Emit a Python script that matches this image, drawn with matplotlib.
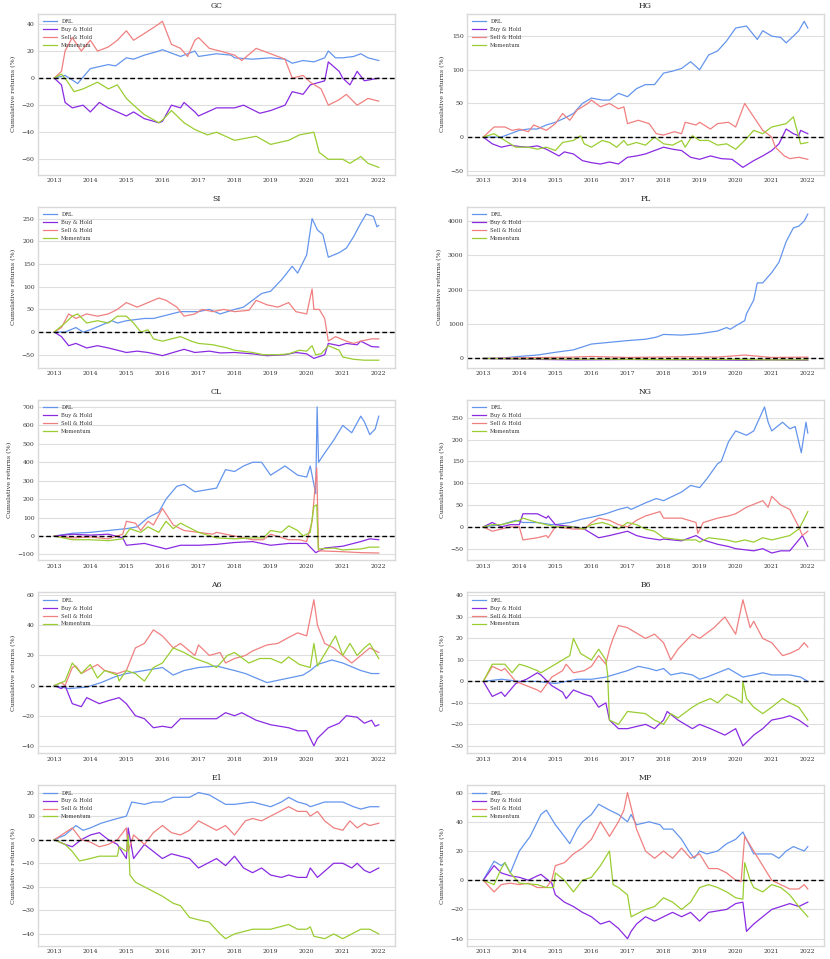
import matplotlib
matplotlib.use("Agg")
import matplotlib.pyplot as plt

STRATEGIES = ["DRL", "Buy & Hold", "Sell & Hold", "Momentum"]
COLORS = ["cornflowerblue", "blueviolet", "lightcoral", "yellowgreen"]
YEARS = list(range(2013, 2023))
YEAR_LABELS = [str(y) for y in YEARS]

# ---------------- GC ----------------
gc_drl_t = [2013.0, 2013.3, 2013.65, 2014.0, 2014.5, 2014.7, 2015.0, 2015.2, 2015.5, 2015.9, 2016.0, 2016.5, 2016.9, 2017.0, 2017.5, 2017.9, 2018.0, 2018.5, 2019.0, 2019.4, 2019.6, 2019.9, 2020.2, 2020.5, 2020.6, 2020.8, 2021.0, 2021.3, 2021.5, 2021.7, 2022.0]
gc_drl_v = [0, 2, -4, 7, 10, 9, 15, 14, 17, 20, 21, 16, 20, 16, 18, 17, 15, 14, 15, 14, 11, 13, 12, 15, 20, 15, 15, 16, 18, 15, 13]
gc_bh_t = [2013.0, 2013.2, 2013.3, 2013.5, 2013.8, 2014.0, 2014.25, 2014.5, 2014.75, 2015.0, 2015.2, 2015.5, 2015.9, 2016.0, 2016.25, 2016.5, 2016.6, 2016.9, 2017.0, 2017.5, 2018.0, 2018.25, 2018.7, 2019.0, 2019.4, 2019.6, 2019.9, 2020.1, 2020.5, 2020.6, 2020.9, 2021.0, 2021.2, 2021.4, 2021.6, 2022.0]
gc_bh_v = [0, -5, -18, -22, -20, -25, -18, -22, -25, -28, -25, -30, -33, -32, -20, -22, -18, -25, -28, -22, -22, -20, -26, -24, -20, -10, -12, -5, -2, 12, 5, 0, -5, 5, -2, 0]
gc_sh_t = [2013.0, 2013.2, 2013.3, 2013.5, 2013.75, 2014.0, 2014.2, 2014.5, 2014.75, 2015.0, 2015.2, 2015.5, 2015.9, 2016.0, 2016.25, 2016.5, 2016.7, 2016.9, 2017.0, 2017.3, 2017.6, 2018.0, 2018.2, 2018.6, 2019.0, 2019.4, 2019.6, 2019.9, 2020.1, 2020.4, 2020.6, 2020.9, 2021.1, 2021.4, 2021.7, 2022.0]
gc_sh_v = [0, 5, 20, 30, 20, 28, 20, 23, 28, 35, 28, 33, 40, 42, 25, 22, 16, 28, 30, 22, 20, 17, 13, 22, 18, 14, 0, 2, -3, -8, -20, -16, -12, -20, -15, -17]
gc_mom_t = [2013.0, 2013.2, 2013.35, 2013.55, 2013.8, 2014.2, 2014.5, 2014.75, 2015.0, 2015.2, 2015.5, 2015.9, 2016.0, 2016.25, 2016.6, 2016.9, 2017.25, 2017.5, 2018.0, 2018.6, 2019.0, 2019.5, 2019.8, 2020.2, 2020.35, 2020.6, 2021.0, 2021.2, 2021.5, 2021.7, 2022.0]
gc_mom_v = [0, 3, -2, -10, -8, -3, -8, -5, -15, -20, -27, -33, -31, -24, -33, -38, -42, -40, -46, -43, -49, -46, -42, -40, -55, -60, -60, -63, -58, -63, -66]

# ---------------- HG ----------------
hg_drl_t = [2013.0, 2013.5, 2014.0, 2014.25, 2014.5, 2014.75, 2015.0, 2015.25, 2015.5, 2015.75, 2016.0, 2016.3, 2016.5, 2016.75, 2017.0, 2017.25, 2017.5, 2017.75, 2018.0, 2018.25, 2018.5, 2018.75, 2019.0, 2019.25, 2019.5, 2019.75, 2020.0, 2020.3, 2020.6, 2020.75, 2021.0, 2021.25, 2021.4, 2021.6, 2021.75, 2021.9, 2022.0]
hg_drl_v = [0, 0, 10, 12, 12, 18, 22, 28, 35, 50, 58, 55, 55, 65, 60, 72, 78, 78, 95, 98, 102, 112, 100, 122, 128, 143, 162, 165, 145, 158, 150, 148, 140, 150, 158, 172, 162]
hg_bh_t = [2013.0, 2013.25, 2013.5, 2013.75, 2014.0, 2014.25, 2014.5, 2014.75, 2015.1, 2015.25, 2015.5, 2015.75, 2016.0, 2016.25, 2016.5, 2016.75, 2017.0, 2017.25, 2017.5, 2017.75, 2018.0, 2018.25, 2018.5, 2018.75, 2019.0, 2019.3, 2019.6, 2019.9, 2020.2, 2020.5, 2020.75, 2021.0, 2021.2, 2021.4, 2021.6, 2021.75, 2021.8, 2022.0]
hg_bh_v = [0, -10, -15, -12, -14, -15, -13, -18, -28, -22, -25, -35, -38, -40, -37, -40, -30, -28, -25, -20, -15, -18, -20, -30, -33, -28, -32, -33, -45, -35, -28, -20, -10, 12, 5, 2, 10, 5]
hg_sh_t = [2013.0, 2013.3, 2013.6, 2013.8, 2014.0, 2014.25, 2014.4, 2014.75, 2015.0, 2015.2, 2015.4, 2015.6, 2015.9, 2016.0, 2016.25, 2016.5, 2016.75, 2016.9, 2017.0, 2017.3, 2017.6, 2017.8, 2018.0, 2018.3, 2018.5, 2018.6, 2018.9, 2019.0, 2019.3, 2019.5, 2019.8, 2020.0, 2020.25, 2020.5, 2020.75, 2021.0, 2021.1, 2021.35, 2021.5, 2021.75, 2022.0]
hg_sh_v = [0, 15, 15, 10, 12, 8, 18, 10, 20, 35, 25, 40, 50, 55, 45, 50, 42, 45, 20, 25, 20, 5, 3, 8, 5, 22, 18, 22, 12, 20, 22, 15, 50, 30, 10, 0, -15, -28, -32, -30, -33]
hg_mom_t = [2013.0, 2013.3, 2013.6, 2013.9, 2014.25, 2014.5, 2014.75, 2015.0, 2015.2, 2015.5, 2015.7, 2015.8, 2016.0, 2016.3, 2016.5, 2016.7, 2016.9, 2017.0, 2017.25, 2017.5, 2017.75, 2018.0, 2018.25, 2018.5, 2018.6, 2018.8, 2019.0, 2019.25, 2019.5, 2019.75, 2020.0, 2020.25, 2020.5, 2020.75, 2021.0, 2021.25, 2021.4, 2021.6, 2021.75, 2021.8, 2022.0]
hg_mom_v = [0, 5, -5, -15, -15, -18, -15, -20, -8, -5, 2, -10, -15, -5, -8, -15, -5, -12, -8, -12, 0, -10, -12, -5, -15, 2, -5, -5, -12, -10, -18, -5, 10, 5, 15, 18, 20, 30, 0, -10, -8]

# ---------------- SI ----------------
si_drl_t = [2013.0, 2013.3, 2013.6, 2013.8, 2014.0, 2014.3, 2014.6, 2014.75, 2015.0, 2015.5, 2015.75, 2016.0, 2016.5, 2016.75, 2017.0, 2017.3, 2017.6, 2017.8, 2018.0, 2018.25, 2018.5, 2018.75, 2019.0, 2019.3, 2019.6, 2019.75, 2020.0, 2020.15, 2020.3, 2020.45, 2020.6, 2020.9, 2021.1, 2021.3, 2021.5, 2021.65, 2021.85, 2021.95, 2022.0]
si_drl_v = [0, 0, 10, 0, 5, 15, 25, 20, 25, 30, 30, 35, 45, 45, 45, 50, 40, 45, 50, 55, 70, 85, 90, 115, 145, 130, 170, 250, 225, 215, 165, 175, 185, 210, 240, 260, 255, 232, 235]
si_bh_t = [2013.0, 2013.2, 2013.4, 2013.6, 2013.9, 2014.2, 2014.5, 2014.75, 2015.0, 2015.3, 2015.6, 2015.9, 2016.0, 2016.3, 2016.6, 2016.9, 2017.3, 2017.6, 2018.0, 2018.5, 2018.9, 2019.4, 2019.7, 2020.0, 2020.2, 2020.5, 2020.6, 2020.9, 2021.1, 2021.4, 2021.5, 2021.8, 2022.0]
si_bh_v = [0, -10, -30, -25, -35, -30, -35, -40, -45, -42, -45, -50, -52, -45, -38, -45, -42, -46, -45, -48, -52, -50, -45, -48, -58, -50, -25, -30, -25, -28, -20, -32, -33]
si_sh_t = [2013.0, 2013.2, 2013.4, 2013.6, 2013.9, 2014.2, 2014.5, 2014.75, 2015.0, 2015.3, 2015.6, 2015.9, 2016.1, 2016.4, 2016.6, 2016.9, 2017.1, 2017.4, 2017.7, 2018.0, 2018.4, 2018.6, 2018.9, 2019.2, 2019.5, 2019.7, 2020.0, 2020.15, 2020.2, 2020.35, 2020.5, 2020.6, 2020.8, 2021.1, 2021.3, 2021.5, 2021.8, 2022.0]
si_sh_v = [0, 10, 40, 30, 40, 35, 40, 50, 65, 55, 65, 75, 70, 55, 35, 40, 50, 45, 50, 45, 48, 70, 60, 55, 65, 45, 40, 95, 50, 50, 30, -20, -10, -20, -25, -20, -15, -15]
si_mom_t = [2013.0, 2013.3, 2013.5, 2013.65, 2013.9, 2014.2, 2014.5, 2014.75, 2015.0, 2015.2, 2015.4, 2015.6, 2015.75, 2016.0, 2016.25, 2016.5, 2016.8, 2017.0, 2017.4, 2017.8, 2018.0, 2018.5, 2018.8, 2019.2, 2019.5, 2019.8, 2020.0, 2020.15, 2020.25, 2020.4, 2020.6, 2020.9, 2021.0, 2021.3, 2021.6, 2022.0]
si_mom_v = [0, 20, 35, 40, 20, 25, 20, 35, 35, 20, 0, 5, -15, -20, -15, -10, -20, -25, -28, -35, -40, -45, -50, -50, -48, -40, -42, -30, -50, -48, -30, -40, -55, -60, -62, -62]

# ---------------- PL ----------------
pl_drl_t = [2013.0, 2013.5, 2014.0, 2014.5, 2015.0, 2015.5, 2016.0, 2016.5, 2017.0, 2017.5, 2017.8, 2018.0, 2018.5, 2019.0, 2019.5, 2019.75, 2019.85, 2020.0, 2020.25, 2020.3, 2020.5, 2020.6, 2020.75, 2021.0, 2021.2, 2021.4, 2021.6, 2021.75, 2021.9, 2022.0]
pl_drl_v = [0, 10, 60, 100, 180, 250, 420, 470, 520, 560, 620, 700, 680, 720, 800, 900, 850, 950, 1100, 1300, 1700, 2200, 2200, 2500, 2800, 3400, 3800, 3850, 4000, 4200]
pl_bh_t = [2013.0, 2014.0, 2015.5, 2017.0, 2019.0, 2020.25, 2021.0, 2022.0]
pl_bh_v = [0, -20, -40, -30, -40, -50, -40, -50]
pl_sh_t = [2013.0, 2014.0, 2015.5, 2016.0, 2017.0, 2018.5, 2019.5, 2020.25, 2021.0, 2022.0]
pl_sh_v = [0, 20, 40, 60, 30, 50, 40, 100, 30, 40]
pl_mom_t = [2013.0, 2014.0, 2016.0, 2018.0, 2020.0, 2021.0, 2022.0]
pl_mom_v = [0, -10, -20, -30, -30, -40, -40]

# ---------------- CL ----------------
cl_drl_t = [2013.0, 2013.5, 2014.0, 2014.5, 2015.0, 2015.3, 2015.6, 2015.9, 2016.1, 2016.4, 2016.6, 2016.9, 2017.2, 2017.5, 2017.75, 2018.0, 2018.25, 2018.5, 2018.75, 2019.0, 2019.4, 2019.75, 2020.0, 2020.1, 2020.25, 2020.29, 2020.33, 2020.5, 2020.75, 2021.0, 2021.25, 2021.5, 2021.6, 2021.75, 2021.9, 2022.0]
cl_drl_v = [0, 15, 20, 30, 40, 50, 100, 130, 200, 270, 280, 240, 250, 260, 360, 350, 380, 400, 400, 330, 380, 330, 320, 380, 230, 700, 400, 450, 520, 600, 560, 650, 620, 550, 580, 650]
cl_bh_t = [2013.0, 2013.5, 2014.0, 2014.5, 2014.9, 2015.0, 2015.5, 2015.9, 2016.1, 2016.5, 2017.0, 2017.5, 2018.0, 2018.5, 2019.0, 2019.5, 2020.0, 2020.25, 2020.5, 2021.0, 2021.5, 2021.75, 2022.0]
cl_bh_v = [0, 10, 5, 10, -10, -50, -40, -60, -70, -50, -50, -45, -35, -30, -50, -40, -40, -90, -65, -55, -30, -15, -20]
cl_sh_t = [2013.0, 2013.5, 2014.0, 2014.5, 2014.9, 2015.0, 2015.25, 2015.4, 2015.6, 2015.75, 2016.0, 2016.3, 2016.6, 2017.0, 2017.4, 2017.5, 2018.0, 2018.5, 2018.8, 2019.0, 2019.5, 2019.8, 2020.0, 2020.15, 2020.28, 2020.33, 2021.0, 2021.5, 2022.0]
cl_sh_v = [0, -10, -5, -15, 10, 80, 70, 30, 80, 60, 150, 60, 30, 20, 10, 20, 0, -20, -20, 10, -20, -20, -30, 80, 370, -80, -85, -90, -92]
cl_mom_t = [2013.0, 2013.5, 2014.0, 2014.5, 2014.9, 2015.1, 2015.4, 2015.6, 2015.9, 2016.1, 2016.3, 2016.5, 2016.8, 2017.0, 2017.5, 2018.0, 2018.5, 2018.8, 2019.0, 2019.3, 2019.5, 2019.75, 2019.9, 2020.1, 2020.2, 2020.28, 2020.32, 2020.75, 2021.0, 2021.5, 2021.75, 2022.0]
cl_mom_v = [0, -20, -20, -25, -15, 40, 20, 50, 20, 80, 40, 70, 40, 20, -10, -15, -10, -10, 30, 20, 55, 30, 0, 20, 160, 170, -70, -65, -75, -70, -60, -60]

# ---------------- NG ----------------
ng_drl_t = [2013.0, 2013.5, 2013.9, 2014.1, 2014.5, 2014.9, 2015.0, 2015.4, 2015.75, 2016.0, 2016.4, 2016.75, 2017.0, 2017.1, 2017.5, 2017.8, 2018.0, 2018.25, 2018.5, 2018.75, 2019.0, 2019.2, 2019.5, 2019.6, 2019.8, 2020.0, 2020.3, 2020.5, 2020.8, 2020.9, 2021.0, 2021.3, 2021.5, 2021.65, 2021.82, 2021.95, 2022.0]
ng_drl_v = [0, 5, 15, 10, 10, 5, 5, 10, 18, 22, 30, 40, 45, 40, 55, 65, 60, 70, 80, 95, 90, 110, 145, 150, 195, 220, 210, 220, 275, 240, 220, 240, 225, 230, 170, 240, 215]
ng_bh_t = [2013.0, 2013.25, 2013.5, 2013.75, 2014.0, 2014.1, 2014.5, 2014.75, 2014.8, 2015.0, 2015.5, 2015.8, 2016.0, 2016.2, 2016.5, 2016.75, 2017.0, 2017.25, 2017.5, 2017.9, 2018.0, 2018.5, 2018.9, 2019.1, 2019.5, 2019.8, 2020.0, 2020.5, 2020.75, 2021.0, 2021.25, 2021.5, 2021.75, 2021.85, 2022.0]
ng_bh_v = [0, 10, 0, 5, 5, 30, 30, 20, 25, 5, 0, -5, -15, -25, -20, -15, -10, -20, -25, -30, -28, -32, -20, -30, -40, -45, -50, -55, -50, -60, -55, -55, -30, -20, -45]
ng_sh_t = [2013.0, 2013.25, 2013.5, 2013.75, 2014.0, 2014.1, 2014.5, 2014.75, 2014.8, 2015.0, 2015.5, 2015.8, 2016.0, 2016.2, 2016.5, 2016.75, 2017.0, 2017.25, 2017.5, 2017.9, 2018.0, 2018.5, 2018.9, 2018.95, 2019.1, 2019.5, 2019.8, 2020.0, 2020.3, 2020.75, 2020.9, 2021.0, 2021.25, 2021.5, 2021.75, 2021.85, 2022.0]
ng_sh_v = [0, -10, -5, 0, 0, -30, -25, -20, -25, 0, -5, -5, 10, 20, 15, 5, 0, 15, 25, 35, 20, 20, 10, -15, 10, 20, 25, 30, 45, 60, 45, 70, 50, 40, 0, -20, -10]
ng_mom_t = [2013.0, 2013.25, 2013.5, 2013.75, 2014.0, 2014.1, 2014.5, 2014.75, 2015.0, 2015.5, 2015.8, 2016.0, 2016.3, 2016.5, 2016.75, 2017.0, 2017.25, 2017.5, 2017.75, 2018.0, 2018.5, 2018.9, 2019.0, 2019.25, 2019.75, 2020.0, 2020.25, 2020.5, 2020.75, 2021.0, 2021.25, 2021.5, 2021.75, 2021.85, 2022.0]
ng_mom_v = [0, 5, 5, 10, 15, 20, 10, 5, 0, 0, -5, 5, 10, 5, -5, 10, 5, -5, -10, -25, -30, -30, -35, -25, -30, -35, -30, -35, -25, -30, -25, -20, -5, 10, 35]

# ---------------- A6 ----------------
a6_drl_t = [2013.0, 2013.4, 2013.9, 2014.3, 2014.7, 2015.0, 2015.5, 2016.0, 2016.3, 2016.6, 2017.0, 2017.5, 2018.0, 2018.3, 2018.6, 2018.9, 2019.1, 2019.5, 2019.9, 2020.1, 2020.3, 2020.7, 2021.0, 2021.3, 2021.5, 2021.8, 2022.0]
a6_drl_v = [0, -2, -1, 2, 6, 8, 10, 12, 7, 10, 12, 13, 10, 8, 5, 2, 3, 5, 7, 10, 14, 17, 15, 12, 10, 8, 8]
a6_bh_t = [2013.0, 2013.2, 2013.3, 2013.5, 2013.75, 2013.9, 2014.25, 2014.5, 2014.8, 2015.0, 2015.25, 2015.5, 2015.75, 2016.0, 2016.25, 2016.5, 2017.0, 2017.5, 2017.75, 2018.0, 2018.2, 2018.6, 2019.0, 2019.5, 2019.75, 2020.0, 2020.2, 2020.3, 2020.6, 2020.9, 2021.1, 2021.4, 2021.6, 2021.8, 2021.9, 2022.0]
a6_bh_v = [0, -2, 0, -12, -14, -8, -12, -10, -8, -12, -20, -22, -28, -27, -28, -22, -22, -22, -18, -20, -18, -23, -26, -28, -30, -30, -40, -35, -28, -25, -20, -21, -25, -23, -27, -26]
a6_sh_t = [2013.0, 2013.2, 2013.3, 2013.5, 2013.6, 2013.75, 2014.2, 2014.4, 2014.75, 2015.0, 2015.25, 2015.5, 2015.75, 2016.0, 2016.3, 2016.5, 2016.9, 2017.0, 2017.3, 2017.6, 2017.75, 2018.0, 2018.3, 2018.5, 2018.9, 2019.2, 2019.5, 2019.75, 2020.0, 2020.2, 2020.3, 2020.5, 2020.75, 2021.0, 2021.25, 2021.5, 2021.75, 2022.0]
a6_sh_v = [0, 2, 0, 12, 13, 8, 14, 10, 8, 10, 25, 28, 37, 33, 25, 28, 20, 27, 20, 22, 15, 18, 20, 23, 27, 28, 32, 35, 33, 57, 40, 28, 25, 20, 15, 20, 25, 22]
a6_mom_t = [2013.0, 2013.3, 2013.5, 2013.75, 2014.0, 2014.2, 2014.4, 2014.75, 2014.8, 2015.0, 2015.25, 2015.5, 2015.75, 2016.0, 2016.3, 2016.6, 2016.9, 2017.25, 2017.5, 2017.8, 2018.0, 2018.4, 2018.7, 2019.0, 2019.3, 2019.5, 2019.8, 2020.1, 2020.2, 2020.3, 2020.6, 2020.8, 2021.0, 2021.2, 2021.4, 2021.6, 2021.75, 2022.0]
a6_mom_v = [0, 3, 15, 8, 14, 5, 10, 7, 3, 10, 8, 3, 12, 15, 25, 22, 18, 15, 12, 20, 22, 15, 18, 18, 15, 19, 14, 12, 28, 13, 25, 33, 20, 28, 20, 25, 28, 18]

# ---------------- B6 ----------------
b6_drl_t = [2013.0, 2013.5, 2014.0, 2014.5, 2015.0, 2015.6, 2016.0, 2016.4, 2016.6, 2017.0, 2017.3, 2017.6, 2017.8, 2018.0, 2018.2, 2018.5, 2018.8, 2019.0, 2019.2, 2019.5, 2019.8, 2020.0, 2020.2, 2020.5, 2020.75, 2021.0, 2021.5, 2021.8, 2022.0]
b6_drl_v = [0, 1, 0, 0, -1, 1, 1, 2, 3, 5, 7, 6, 5, 6, 3, 4, 3, 1, 2, 4, 6, 4, 2, 3, 4, 3, 3, 2, 0]
b6_bh_t = [2013.0, 2013.25, 2013.5, 2013.6, 2013.9, 2014.2, 2014.5, 2014.6, 2014.9, 2015.2, 2015.3, 2015.5, 2015.8, 2016.0, 2016.2, 2016.4, 2016.5, 2016.75, 2017.0, 2017.5, 2017.75, 2018.0, 2018.1, 2018.4, 2018.8, 2019.0, 2019.3, 2019.7, 2020.0, 2020.2, 2020.5, 2020.75, 2021.0, 2021.3, 2021.5, 2021.75, 2022.0]
b6_bh_v = [0, -7, -5, -7, -1, 1, 4, 3, -2, -5, -8, -4, -6, -7, -12, -10, -18, -22, -22, -20, -22, -18, -14, -18, -22, -20, -22, -25, -22, -30, -25, -22, -18, -17, -16, -18, -21]
b6_sh_t = [2013.0, 2013.25, 2013.5, 2013.6, 2013.9, 2014.2, 2014.5, 2014.6, 2014.9, 2015.2, 2015.3, 2015.5, 2015.8, 2016.0, 2016.2, 2016.4, 2016.5, 2016.6, 2016.75, 2017.0, 2017.5, 2017.75, 2018.0, 2018.2, 2018.4, 2018.8, 2019.0, 2019.4, 2019.7, 2020.0, 2020.2, 2020.4, 2020.5, 2020.75, 2021.0, 2021.3, 2021.5, 2021.75, 2021.9, 2022.0]
b6_sh_v = [0, 7, 5, 6, 0, -2, -4, -5, 2, 5, 8, 4, 5, 7, 12, 8, 15, 20, 26, 25, 20, 22, 18, 10, 15, 22, 20, 25, 30, 22, 38, 25, 28, 20, 18, 12, 13, 15, 18, 16]
b6_mom_t = [2013.0, 2013.25, 2013.6, 2013.8, 2014.0, 2014.2, 2014.5, 2014.6, 2014.9, 2015.2, 2015.4, 2015.5, 2015.7, 2016.0, 2016.2, 2016.4, 2016.45, 2016.5, 2016.75, 2017.0, 2017.5, 2017.75, 2018.0, 2018.2, 2018.4, 2018.8, 2019.0, 2019.3, 2019.5, 2019.75, 2020.0, 2020.18, 2020.2, 2020.3, 2020.5, 2020.75, 2021.0, 2021.3, 2021.5, 2021.75, 2022.0]
b6_mom_v = [0, 8, 8, 4, 8, 7, 5, 4, 7, 10, 12, 20, 13, 10, 15, 10, 3, -18, -20, -14, -15, -18, -20, -15, -17, -12, -10, -8, -10, -6, -8, -10, 0, -8, -12, -15, -12, -8, -10, -12, -18]

# ---------------- E1 ----------------
e1_drl_t = [2013.0, 2013.3, 2013.6, 2013.8, 2014.0, 2014.3, 2014.75, 2015.0, 2015.15, 2015.5, 2015.75, 2016.0, 2016.3, 2016.75, 2017.0, 2017.3, 2017.75, 2018.0, 2018.5, 2019.0, 2019.3, 2019.5, 2019.75, 2020.0, 2020.1, 2020.5, 2020.75, 2021.0, 2021.3, 2021.5, 2021.75, 2022.0]
e1_drl_v = [0, 2, 6, 4, 5, 7, 9, 10, 16, 15, 16, 16, 18, 18, 20, 19, 15, 15, 16, 14, 16, 18, 16, 15, 14, 16, 16, 16, 14, 13, 14, 14]
e1_bh_t = [2013.0, 2013.3, 2013.5, 2013.75, 2014.0, 2014.25, 2014.5, 2014.75, 2015.0, 2015.05, 2015.2, 2015.5, 2015.75, 2016.0, 2016.25, 2016.5, 2016.75, 2017.0, 2017.25, 2017.5, 2017.75, 2018.0, 2018.25, 2018.5, 2018.75, 2019.0, 2019.3, 2019.5, 2019.75, 2020.0, 2020.1, 2020.3, 2020.6, 2020.75, 2021.0, 2021.25, 2021.4, 2021.6, 2021.75, 2022.0]
e1_bh_v = [0, -2, -3, 0, 2, 3, 0, -2, -8, 5, -8, -2, -5, -8, -6, -7, -8, -12, -10, -8, -11, -7, -12, -14, -12, -15, -16, -15, -16, -16, -12, -16, -12, -10, -10, -12, -10, -13, -14, -12]
e1_sh_t = [2013.0, 2013.3, 2013.5, 2013.75, 2014.0, 2014.25, 2014.5, 2014.75, 2015.0, 2015.05, 2015.2, 2015.5, 2015.75, 2016.0, 2016.25, 2016.5, 2016.75, 2017.0, 2017.25, 2017.5, 2017.75, 2018.0, 2018.3, 2018.5, 2018.75, 2019.0, 2019.25, 2019.5, 2019.75, 2020.0, 2020.1, 2020.3, 2020.5, 2020.75, 2021.0, 2021.2, 2021.4, 2021.6, 2021.75, 2022.0]
e1_sh_v = [0, 3, 5, 0, -1, -3, -2, 0, 5, -5, 2, -2, 3, 6, 3, 2, 4, 8, 6, 4, 6, 2, 8, 9, 8, 10, 12, 14, 12, 12, 10, 12, 8, 5, 4, 8, 5, 7, 6, 7]
e1_mom_t = [2013.0, 2013.3, 2013.5, 2013.7, 2014.0, 2014.25, 2014.5, 2014.75, 2014.8, 2015.0, 2015.05, 2015.1, 2015.25, 2015.5, 2015.75, 2016.0, 2016.3, 2016.5, 2016.75, 2017.0, 2017.3, 2017.6, 2017.75, 2018.0, 2018.5, 2019.0, 2019.25, 2019.5, 2019.75, 2020.0, 2020.1, 2020.2, 2020.5, 2020.75, 2021.0, 2021.25, 2021.5, 2021.75, 2022.0]
e1_mom_v = [0, -2, -5, -9, -8, -7, -7, -7, -3, -5, 2, -15, -18, -20, -22, -24, -27, -28, -33, -34, -35, -40, -42, -40, -38, -38, -37, -36, -38, -38, -37, -41, -42, -40, -42, -40, -38, -38, -40]

# ---------------- MP ----------------
mp_drl_t = [2013.0, 2013.3, 2013.5, 2013.6, 2013.75, 2014.0, 2014.3, 2014.6, 2014.75, 2015.0, 2015.25, 2015.4, 2015.6, 2015.75, 2016.0, 2016.2, 2016.5, 2016.75, 2017.0, 2017.1, 2017.25, 2017.6, 2017.9, 2018.0, 2018.25, 2018.5, 2018.7, 2018.85, 2019.0, 2019.2, 2019.5, 2019.75, 2020.0, 2020.2, 2020.5, 2020.75, 2021.0, 2021.2, 2021.4, 2021.6, 2021.9, 2022.0]
mp_drl_v = [0, 13, 10, 12, 5, 20, 30, 45, 48, 38, 30, 25, 35, 40, 45, 52, 48, 45, 40, 45, 38, 40, 38, 35, 35, 28, 20, 15, 20, 18, 20, 25, 28, 33, 18, 18, 18, 15, 20, 23, 20, 23]
mp_bh_t = [2013.0, 2013.3, 2013.5, 2013.75, 2014.0, 2014.25, 2014.5, 2014.6, 2014.9, 2015.0, 2015.25, 2015.5, 2015.75, 2016.0, 2016.25, 2016.5, 2016.75, 2017.0, 2017.1, 2017.25, 2017.5, 2017.75, 2018.0, 2018.25, 2018.5, 2018.75, 2019.0, 2019.25, 2019.75, 2020.0, 2020.2, 2020.3, 2020.5, 2020.75, 2021.0, 2021.25, 2021.5, 2021.75, 2022.0]
mp_bh_v = [0, 10, 5, 3, 2, 0, 3, 4, -2, -10, -15, -18, -22, -25, -30, -28, -33, -40, -35, -30, -25, -28, -25, -22, -25, -22, -28, -22, -20, -16, -15, -35, -30, -25, -20, -18, -16, -18, -15]
mp_sh_t = [2013.0, 2013.3, 2013.5, 2013.75, 2014.0, 2014.25, 2014.5, 2014.75, 2014.9, 2015.0, 2015.25, 2015.5, 2015.75, 2016.0, 2016.25, 2016.5, 2016.75, 2016.9, 2017.0, 2017.25, 2017.5, 2017.75, 2018.0, 2018.25, 2018.5, 2018.75, 2019.0, 2019.25, 2019.5, 2019.75, 2020.0, 2020.15, 2020.25, 2020.5, 2020.75, 2021.0, 2021.25, 2021.5, 2021.75, 2021.9, 2022.0]
mp_sh_v = [0, -8, -3, -2, -3, -2, -5, -5, 0, 10, 12, 18, 22, 28, 40, 30, 40, 48, 60, 35, 20, 15, 20, 15, 22, 15, 18, 8, 8, 5, 0, -1, 30, 20, 10, 0, -3, -6, -6, -3, -6]
mp_mom_t = [2013.0, 2013.3, 2013.5, 2013.6, 2013.75, 2014.0, 2014.5, 2014.75, 2014.95, 2015.0, 2015.25, 2015.5, 2015.75, 2016.0, 2016.25, 2016.5, 2016.6, 2016.75, 2017.0, 2017.1, 2017.5, 2017.75, 2018.0, 2018.25, 2018.5, 2018.75, 2019.0, 2019.25, 2019.5, 2019.75, 2020.0, 2020.2, 2020.25, 2020.4, 2020.5, 2020.75, 2021.0, 2021.25, 2021.5, 2021.75, 2022.0]
mp_mom_v = [0, -3, 8, 12, 5, -2, -3, -5, -5, 5, 0, -8, 0, 2, 10, 20, -3, -5, -10, -25, -20, -18, -12, -15, -20, -15, -5, -3, -5, -8, -12, -13, 12, 0, -5, -8, -3, -5, -10, -18, -25]

# y tick values per panel
gc_yticks = [-60, -40, -20, 0, 20, 40]
hg_yticks = [-50, 0, 50, 100, 150]
si_yticks = [-50, 0, 50, 100, 150, 200, 250]
pl_yticks = [0, 1000, 2000, 3000, 4000]
cl_yticks = [-100, 0, 100, 200, 300, 400, 500, 600, 700]
ng_yticks = [-50, 0, 50, 100, 150, 200, 250]
a6_yticks = [-40, -20, 0, 20, 40, 60]
b6_yticks = [-30, -20, -10, 0, 10, 20, 30, 40]
e1_yticks = [-40, -30, -20, -10, 0, 10, 20]
mp_yticks = [-40, -20, 0, 20, 40, 60]

panels = [
    ("GC", [(gc_drl_t, gc_drl_v), (gc_bh_t, gc_bh_v), (gc_sh_t, gc_sh_v), (gc_mom_t, gc_mom_v)], gc_yticks),
    ("HG", [(hg_drl_t, hg_drl_v), (hg_bh_t, hg_bh_v), (hg_sh_t, hg_sh_v), (hg_mom_t, hg_mom_v)], hg_yticks),
    ("SI", [(si_drl_t, si_drl_v), (si_bh_t, si_bh_v), (si_sh_t, si_sh_v), (si_mom_t, si_mom_v)], si_yticks),
    ("PL", [(pl_drl_t, pl_drl_v), (pl_bh_t, pl_bh_v), (pl_sh_t, pl_sh_v), (pl_mom_t, pl_mom_v)], pl_yticks),
    ("CL", [(cl_drl_t, cl_drl_v), (cl_bh_t, cl_bh_v), (cl_sh_t, cl_sh_v), (cl_mom_t, cl_mom_v)], cl_yticks),
    ("NG", [(ng_drl_t, ng_drl_v), (ng_bh_t, ng_bh_v), (ng_sh_t, ng_sh_v), (ng_mom_t, ng_mom_v)], ng_yticks),
    ("A6", [(a6_drl_t, a6_drl_v), (a6_bh_t, a6_bh_v), (a6_sh_t, a6_sh_v), (a6_mom_t, a6_mom_v)], a6_yticks),
    ("B6", [(b6_drl_t, b6_drl_v), (b6_bh_t, b6_bh_v), (b6_sh_t, b6_sh_v), (b6_mom_t, b6_mom_v)], b6_yticks),
    ("E1", [(e1_drl_t, e1_drl_v), (e1_bh_t, e1_bh_v), (e1_sh_t, e1_sh_v), (e1_mom_t, e1_mom_v)], e1_yticks),
    ("MP", [(mp_drl_t, mp_drl_v), (mp_bh_t, mp_bh_v), (mp_sh_t, mp_sh_v), (mp_mom_t, mp_mom_v)], mp_yticks),
]

plt.rcParams["font.family"] = ["DejaVu Serif"]
TEXT_COLOR = "#333333"

fig, axes = plt.subplots(5, 2, figsize=(8.3, 9.59), dpi=100)
fig.subplots_adjust(left=0.0458, right=0.9928, bottom=0.0136, top=0.9854,
                    wspace=0.2017, hspace=0.2)

for ax, (title, series, yticks) in zip(axes.flat, panels):
    ax.set_facecolor("white")
    for (t, v), name, color in zip(series, STRATEGIES, COLORS):
        ax.plot(t, v, color=color, lw=0.9, label=name)
    ax.axhline(0, color="black", ls="--", lw=1.0, dashes=(3.5, 2))
    ax.set_title(title, fontsize=5.6, color="#222222", pad=4)
    ax.set_ylabel("Cumulative returns (%)", fontsize=4.6, color=TEXT_COLOR, labelpad=4)
    ax.set_xticks(YEARS)
    ax.set_xticklabels(YEAR_LABELS)
    ax.set_yticks(yticks)
    ax.tick_params(axis="both", length=0, labelsize=4.4, labelcolor=TEXT_COLOR, pad=2.5)
    ax.grid(axis="y", color="#dedede", lw=0.8)
    ax.grid(axis="x", visible=False)
    ax.set_axisbelow(True)
    for sp in ax.spines.values():
        sp.set_color("#d9d9d9")
        sp.set_linewidth(1.0)
    leg = ax.legend(loc="upper left", frameon=False, fontsize=3.8,
                    handlelength=2.6, labelspacing=0.55, borderaxespad=0.6)
    for txt in leg.get_texts():
        txt.set_color(TEXT_COLOR)

fig.savefig("out.png", dpi=100, facecolor="white")
